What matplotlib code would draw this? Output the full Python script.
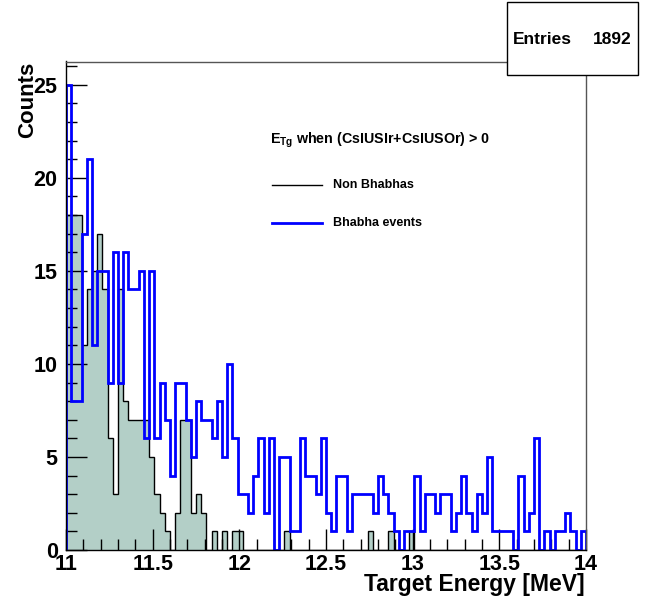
import matplotlib

matplotlib.use("Agg")
import matplotlib.pyplot as plt
import numpy as np
from matplotlib.lines import Line2D
from matplotlib.patches import Rectangle
from matplotlib.ticker import FuncFormatter, MultipleLocator

plt.rcParams["font.family"] = ["Liberation Sans", "DejaVu Sans"]
plt.rcParams["font.weight"] = "bold"
plt.rcParams["mathtext.fontset"] = "custom"
plt.rcParams["mathtext.rm"] = "Liberation Sans:bold"
plt.rcParams["mathtext.bf"] = "Liberation Sans:bold"

# histogram binning: 100 bins between 11 and 14 MeV
x_min, x_max, n_bins = 11.0, 14.0, 100

non_bhabha = [18, 18, 18, 11, 14, 15, 17, 14, 6, 3,
              14, 8, 7, 7, 7, 7, 5, 3, 2, 1,
              0, 2, 7, 7, 2, 3, 2, 0, 1, 0,
              1, 0, 1, 1, 0, 0, 0, 0, 0, 0,
              0, 0, 1, 0, 0, 0, 0, 0, 0, 0,
              0, 0, 0, 0, 0, 0, 0, 0, 1, 0,
              0, 0, 1, 0, 0, 0, 1, 0, 0, 0,
              0, 0, 0, 0, 0, 0, 0, 0, 0, 0,
              0, 0, 0, 0, 0, 0, 0, 0, 0, 0,
              0, 0, 0, 0, 0, 0, 0, 0, 0, 0]

bhabha = [25, 8, 8, 17, 21, 11, 15, 15, 9, 16,
          9, 16, 14, 14, 15, 6, 15, 6, 9, 7,
          4, 9, 9, 7, 5, 8, 7, 7, 6, 8,
          5, 10, 6, 3, 3, 2, 4, 6, 2, 6,
          0, 5, 5, 1, 1, 6, 4, 4, 3, 6,
          2, 1, 4, 4, 1, 3, 3, 3, 3, 2,
          4, 3, 2, 1, 0, 1, 1, 4, 1, 3,
          3, 2, 3, 3, 1, 2, 4, 2, 1, 3,
          2, 5, 1, 1, 1, 1, 0, 4, 1, 2,
          6, 0, 1, 0, 1, 1, 2, 1, 0, 1]

entries = 1892
legend_title = r"E$_{\mathbf{Tg}}$ when (CsIUSIr+CsIUSOr) > 0"
legend_labels = ["Non Bhabhas", "Bhabha events"]

W, H = 646, 602


def fx(px):
    return px / W


def fy(py):
    return 1 - py / H


fig = plt.figure(figsize=(W / 100, H / 100), dpi=100)
ax = fig.add_axes([fx(66), fy(550), (586 - 66) / W, (550 - 61.5) / H])

edges = np.linspace(x_min, x_max, n_bins + 1)
ax.stairs(non_bhabha, edges, fill=True, color="#b3cfc7", lw=0, zorder=1)
ax.stairs(non_bhabha, edges, color="black", lw=1, zorder=2)
ax.stairs(bhabha, edges, color="#0000ff", lw=2, zorder=3)

ax.set_xlim(x_min, x_max)
ax.set_ylim(0, 1.05 * max(bhabha))
ax.xaxis.set_major_locator(MultipleLocator(0.5))
ax.xaxis.set_minor_locator(MultipleLocator(0.1))
ax.yaxis.set_major_locator(MultipleLocator(5))
ax.yaxis.set_minor_locator(MultipleLocator(1))
ax.xaxis.set_major_formatter(FuncFormatter(lambda v, p: f"{v:g}"))
ax.tick_params(which="both", direction="in", top=False, right=False,
               labelsize=15.5, width=1)
ax.tick_params(which="major", length=15)
ax.tick_params(which="minor", length=8)
ax.tick_params(axis="y", pad=6)
ax.tick_params(axis="x", pad=3)
for side in ["top", "right"]:
    ax.spines[side].set_color("#555555")
for sp in ax.spines.values():
    sp.set_linewidth(1)
    sp.set_zorder(4)

fig.text(fx(585), fy(591), "Target Energy [MeV]", ha="right", va="baseline",
         fontsize=16.5)
fig.text(fx(28), fy(62), "Counts", rotation=90, ha="center", va="top",
         fontsize=16)

# legend (no border, as in the ROOT TLegend)
fig.text(fx(270), fy(140), legend_title, ha="left", va="center", fontsize=10.3)
for i, (lab, col) in enumerate(zip(legend_labels, ["black", "#0000ff"])):
    yy = [185, 223][i]
    fig.add_artist(Line2D([fx(272), fx(322)], [fy(yy), fy(yy)], color=col,
                          lw=[1, 2][i]))
    fig.text(fx(333), fy(yy), lab, ha="left", va="center", fontsize=9)

# stats box
fig.add_artist(Rectangle((fx(507), fy(75)), (638 - 507) / W, (75 - 2) / H,
                         transform=fig.transFigure, fc="white", ec="black",
                         lw=1, zorder=10))
fig.text(fx(513), fy(40), "Entries", ha="left", va="center", fontsize=12.5,
         zorder=11)
fig.text(fx(632), fy(40), f"{entries}", ha="right", va="center",
         fontsize=12.5, zorder=11)

fig.savefig("out.png", dpi=100)
